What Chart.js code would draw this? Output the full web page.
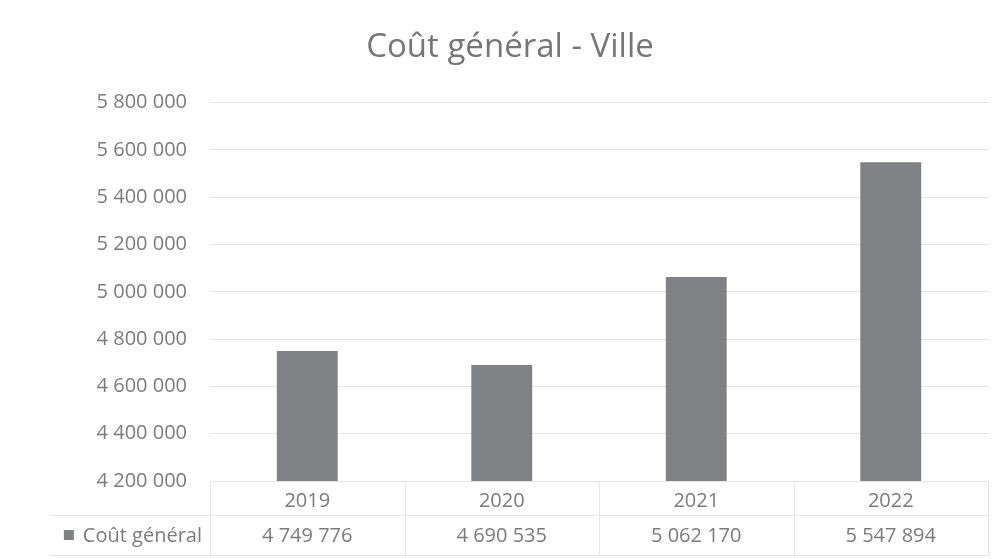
<!DOCTYPE html>
<html>
<head>
<meta charset="utf-8">
<script src="https://cdn.jsdelivr.net/npm/chart.js@4/dist/chart.umd.min.js"></script>
<style>
  html, body { margin: 0; padding: 0; background: #fff; }
  #wrap { width: 1005px; height: 559px; }
</style>
</head>
<body>
<div id="wrap"><canvas id="chart" width="1005" height="559"></canvas></div>
<script>
const years = ['2019', '2020', '2021', '2022'];
const coutGeneral = [4749776, 4690535, 5062170, 5547894];
const seriesName = 'Coût général';
const chartTitle = 'Coût général - Ville';
const yMin = 4200000;
const yMax = 5800000;
const yStep = 200000;

const FONT = "'Open Sans', sans-serif";
const TEXT = '#7b7b7b';
const LINE = '#e4e4e4';
const BAR = '#808185';

function spaced(n) {
  return String(Math.round(n)).replace(/\B(?=(\d{3})+(?!\d))/g, ' ');
}

// draws the excel-style data table under the plot
const dataTable = {
  id: 'dataTable',
  afterDraw(chart) {
    const ctx = chart.ctx;
    const x = chart.scales.x;
    const area = chart.chartArea;
    const half = (x.getPixelForValue(1) - x.getPixelForValue(0)) / 2;
    const row1 = area.bottom + 34;
    const row2 = area.bottom + 74;

    ctx.save();
    ctx.strokeStyle = LINE;
    ctx.lineWidth = 1;
    ctx.beginPath();
    ctx.moveTo(50, row1 + 0.5); ctx.lineTo(area.right, row1 + 0.5);
    ctx.moveTo(50, row2 + 0.5); ctx.lineTo(area.right, row2 + 0.5);
    for (let i = 0; i <= years.length; i++) {
      const px = Math.round(x.getPixelForValue(i) - half) + 0.5;
      ctx.moveTo(px, area.bottom); ctx.lineTo(px, row2);
    }
    ctx.stroke();

    ctx.font = '20px ' + FONT;
    ctx.fillStyle = TEXT;
    ctx.textBaseline = 'middle';
    ctx.textAlign = 'center';
    coutGeneral.forEach((v, i) => {
      ctx.fillText(spaced(v), x.getPixelForValue(i), row1 + 21);
    });

    ctx.textAlign = 'right';
    ctx.fillText(seriesName, area.left - 8, row1 + 21);
    const w = ctx.measureText(seriesName).width;
    ctx.fillStyle = BAR;
    ctx.fillRect(area.left - 8 - w - 19, row1 + 15, 10, 10);
    ctx.restore();
  }
};

new Chart(document.getElementById('chart'), {
  type: 'bar',
  data: {
    labels: years,
    datasets: [{
      label: seriesName,
      data: coutGeneral,
      backgroundColor: BAR,
      barPercentage: 0.313,
      categoryPercentage: 1.0
    }]
  },
  options: {
    responsive: false,
    animation: false,
    layout: { padding: { left: 32, right: 17, top: 0, bottom: 4 } },
    plugins: {
      legend: { display: false },
      tooltip: { enabled: false },
      title: {
        display: true,
        text: chartTitle,
        color: '#767676',
        font: { family: FONT, size: 33, weight: 'normal' },
        padding: { top: 28, bottom: 35 }
      }
    },
    scales: {
      x: {
        grid: { display: false },
        border: { display: false },
        ticks: { color: TEXT, font: { family: FONT, size: 20 }, padding: 0 },
        afterFit(scale) { scale.height = 74; }
      },
      y: {
        min: yMin,
        max: yMax,
        grid: { color: LINE, drawTicks: false },
        border: { display: false },
        ticks: {
          stepSize: yStep,
          color: TEXT,
          padding: 23,
          font: { family: FONT, size: 20 },
          callback: (v) => spaced(v)
        },
        afterFit(scale) { scale.width = 178; }
      }
    }
  },
  plugins: [dataTable]
});
</script>
</body>
</html>
